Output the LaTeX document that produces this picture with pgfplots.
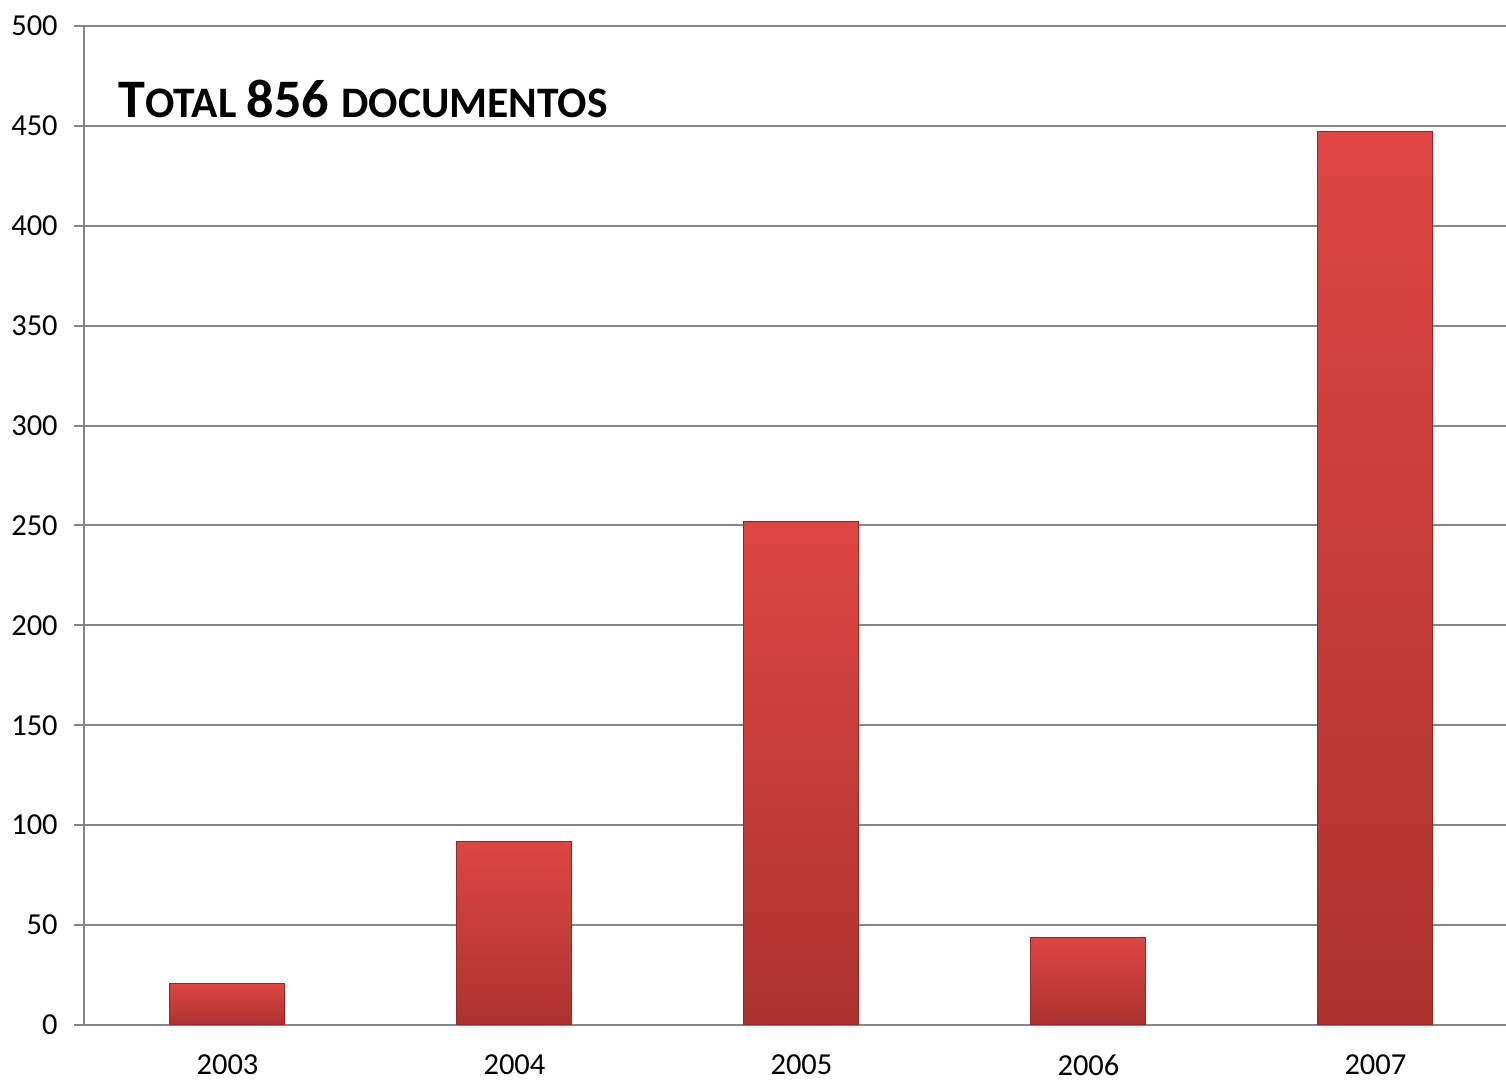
\documentclass[border=0pt]{standalone}
\usepackage{fontspec}
\setmainfont{Carlito}
\usepackage{pgfplots}
\pgfplotsset{compat=1.18}
\definecolor{gridgray}{RGB}{134,134,134}
\definecolor{bartop}{RGB}{222,70,66}
\definecolor{barbot}{RGB}{172,50,46}
\tikzset{mybar/.style={draw=barbot!85!black, line width=0.4pt, top color=bartop, bottom color=barbot}}
\begin{document}
\begin{tikzpicture}
\useasboundingbox (0,0) rectangle (602.4pt,432.4pt);
\begin{axis}[
  at={(33.6pt,22.4pt)}, anchor=south west,
  scale only axis, width=568.8pt, height=399.6pt,
  xmin=-0.5, xmax=4.455, ymin=0, ymax=500,
  axis x line=bottom, axis y line=left,
  axis line style={gridgray, line width=0.8pt, -},
  xtick={0,1,2,3,4},
  xticklabels={2003,2004,2005,2006,2007},
  x tick style={draw=none},
  extra x ticks={-0.5,0.5,1.5,2.5,3.5},
  extra x tick labels={},
  extra x tick style={grid=none, tick align=outside, major tick length=4pt, tick style={gridgray, line width=0.8pt}},
  ytick={0,50,...,500},
  y tick style={gridgray, line width=0.8pt},
  tick align=outside, major tick length=4pt,
  ymajorgrids, major grid style={gridgray, line width=0.8pt},
  tick label style={font=\fontsize{12.2}{14}\selectfont, text=black},
  /pgf/number format/assume math mode=true,
  yticklabel style={xshift=-3pt},
  xticklabel style={yshift=-4.5pt},
  ybar, bar width=46pt, bar shift=0pt,
]
\addplot[mybar] coordinates {(0,21)};
\addplot[mybar] coordinates {(1,92)};
\addplot[mybar] coordinates {(2,252)};
\addplot[mybar] coordinates {(3,44)};
\addplot[mybar] coordinates {(4,447)};
\node[anchor=base west, inner sep=0pt] at (rel axis cs:0.0239,0.908)
  {\bfseries\fontsize{21.7}{24}\selectfont T\fontsize{17.4}{20}\selectfont OTAL \fontsize{21.7}{24}\selectfont 856 \fontsize{17.4}{20}\selectfont DOCUMENTOS};
\end{axis}
\end{tikzpicture}
\end{document}
